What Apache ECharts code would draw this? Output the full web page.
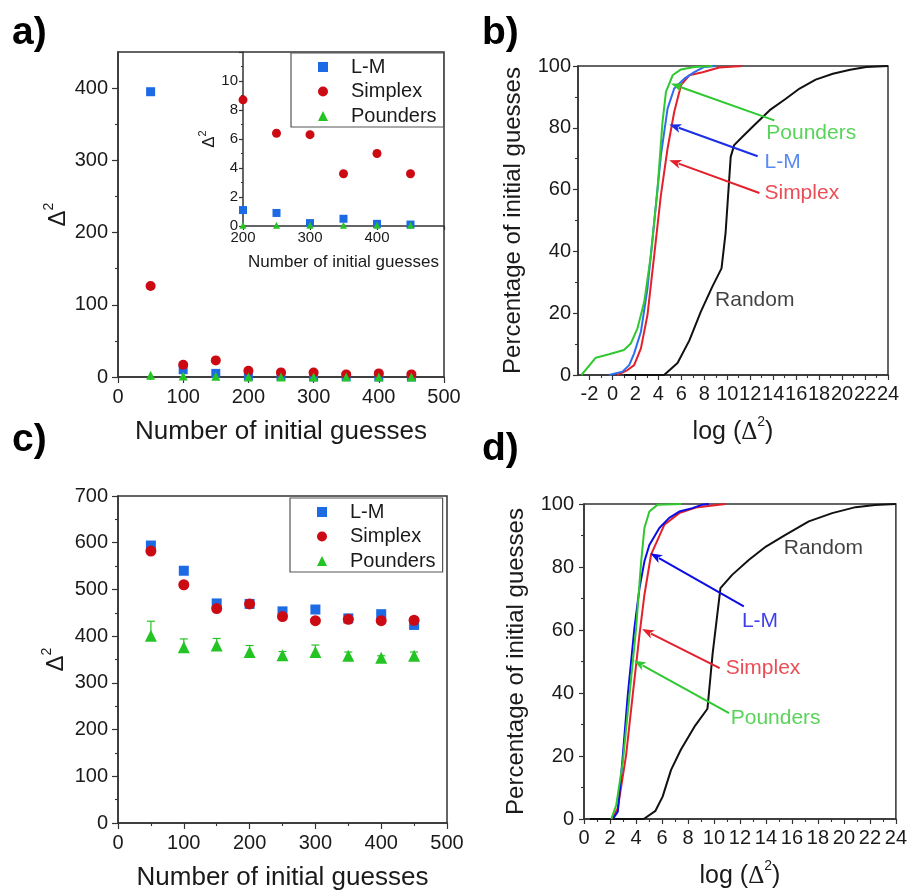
<!DOCTYPE html>
<html>
<head>
<meta charset="utf-8">
<script src="https://cdn.jsdelivr.net/npm/echarts@6/dist/echarts.min.js"></script>
<style>
  html, body { margin: 0; padding: 0; background: #fff; }
  #fig { width: 910px; height: 892px; }
</style>
</head>
<body>
<div id="fig"></div>
<script>
// ---- data -------------------------------------------------------------
const guesses = [50, 100, 150, 200, 250, 300, 350, 400, 450];

// (a) mean Δ² vs number of initial guesses
const lmA       = [395, 10, 5, 1.1, 0.9, 0.2, 0.5, 0.15, 0.1];
const simplexA  = [126, 17, 23, 8.7, 6.4, 6.3, 3.6, 5.0, 3.6];
const poundersA = [2.5, 1.5, 1.2, 0.05, 0.05, 0.05, 0.05, 0.05, 0.05];

// (c) mean Δ² vs number of initial guesses
const lmC          = [594, 540, 470, 469, 453, 457, 438, 447, 424];
const simplexC     = [582, 510, 459, 469, 442, 433, 436, 433, 434];
const poundersC    = [401, 376, 380, 366, 359, 366, 358, 354, 358];
const poundersErrC = [31, 18, 15, 14, 8, 15, 8, 4, 8];

// (b) cumulative distributions: [log(Δ²), % of initial guesses]
const bPounders = [[-2.7,0],[-1.45,5.6],[-0.3,6.7],[1.0,8.1],[1.6,10.2],[2.18,15.1],[2.77,23.7],[3.35,38.8],[3.93,60.4],[4.36,81.9],[4.66,91.6],[5.24,97],[5.97,98.9],[7.13,99.7],[8.7,100]];
const bLM       = [[-0.3,0],[0.87,1.1],[1.46,3.2],[1.89,7],[2.48,14],[3.05,28],[3.64,49.6],[4.22,71.1],[4.8,86.2],[5.38,92.7],[6.26,95.9],[7.13,98],[8.0,99.7],[9.0,100]];
const bSimplex  = [[0.4,0],[1.31,1.6],[1.89,3.2],[2.48,8.6],[3.05,19.4],[3.64,38.8],[4.22,58.2],[4.8,73.3],[5.38,85.1],[5.97,93.8],[6.69,97],[7.85,98],[9.3,99.5],[11.3,100]];
const bRandom   = [[1.0,0],[4.5,0],[5.67,3.9],[6.7,11.2],[7.7,20.5],[8.7,28.6],[9.5,34.5],[9.85,45.8],[10.3,70.6],[10.6,74.4],[11.3,77],[12.5,81.4],[13.7,85.7],[15.1,89.4],[16.3,92.7],[17.7,95.6],[19.2,97.5],[20.7,98.8],[22.1,99.7],[24,100]];

// (d) cumulative distributions: [log(Δ²), % of initial guesses]
const dPounders = [[2.1,0],[2.48,4.4],[2.99,18.2],[3.5,39.4],[4.01,60.6],[4.4,81.8],[4.65,92.4],[5.03,97.6],[5.67,99.8],[7.5,100]];
const dLM       = [[2.22,0],[2.6,2.3],[2.95,18.2],[3.37,39.4],[3.88,60.6],[4.27,73.3],[4.65,81.8],[5.03,87],[5.8,92.4],[6.56,95.6],[7.33,97.6],[8.35,98.7],[9.1,99.8],[9.6,100]];
const dSimplex  = [[2.17,0],[2.6,3.4],[3.24,20.3],[3.75,39.4],[4.27,58.5],[4.65,71.2],[5.16,83.9],[6.18,93.4],[7.33,97.1],[8.6,98.9],[10.9,100]];
const dRandom   = [[0.45,0],[4.6,0],[5.5,2.6],[6.05,7.1],[6.7,15.6],[7.45,22],[8.5,29.3],[9.5,35],[9.9,52.6],[10.5,73.3],[11.4,77.5],[12.7,82.3],[14,86.5],[15.5,90.2],[17.3,94.5],[19.1,97.1],[20.9,99],[22.4,99.7],[24,100]];

// arrows pointing from each label to its curve: [tail x, tail y, head x, head y]
const bArrows = {
  Pounders: [14.1, 82.4, 5.09, 94.3],
  'L-M':    [12.65, 70.8, 4.95, 81.1],
  Simplex:  [12.8, 58.9, 4.95, 69.5]
};
const dArrows = {
  'L-M':    [12.3, 67.5, 5.1, 84.4],
  Simplex:  [10.44, 47.9, 4.47, 60.3],
  Pounders: [11.16, 33.6, 3.83, 50.3]
};
// label anchors (left-middle of each text) in data coordinates
const bLabels = [['Pounders', 13.4, 78.2], ['L-M', 13.24, 69.0], ['Simplex', 13.24, 58.8], ['Random', 8.94, 24.2]];
const dLabels = [['L-M', 12.15, 62.7], ['Simplex', 10.9, 48.0], ['Pounders', 11.29, 32.1], ['Random', 15.37, 86.0]];

// tick values
const ticksN      = [0, 100, 200, 300, 400, 500];
const minorN      = [50, 150, 250, 350, 450];
const ticksYA     = [0, 100, 200, 300, 400];
const minorYA     = [50, 150, 250, 350];
const ticksInsetX = [200, 300, 400, 500];
const labelsInsetX= [200, 300, 400];
const minorInsetX = [250, 350, 450];
const ticksInsetY = [0, 2, 4, 6, 8, 10, 12];
const labelsInsetY= [0, 2, 4, 6, 8, 10];
const minorInsetY = [1, 3, 5, 7, 9, 11];
const ticksPct    = [0, 20, 40, 60, 80, 100];
const minorPct    = [10, 30, 50, 70, 90];
const ticksLogB   = [-2, 0, 2, 4, 6, 8, 10, 12, 14, 16, 18, 20, 22, 24];
const minorLogB   = [-1, 1, 3, 5, 7, 9, 11, 13, 15, 17, 19, 21, 23];
const ticksLogD   = [0, 2, 4, 6, 8, 10, 12, 14, 16, 18, 20, 22, 24];
const minorLogD   = [1, 3, 5, 7, 9, 11, 13, 15, 17, 19, 21, 23];
const ticksYC     = [0, 100, 200, 300, 400, 500, 600, 700];
const minorYC     = [50, 150, 250, 350, 450, 550, 650];

// ---- styling ----------------------------------------------------------
const FONT = 'Liberation Sans, Arial, Helvetica, sans-serif';
const AX = '#333';
const TXT = '#1a1a1a';
const COL_LM = '#1d6ae5', COL_SIM = '#cc0a14', COL_POU = '#25c425';
const CUR_POU = '#30c830', CUR_SIM = '#e3202b', CUR_LM_B = '#2f6cf0', CUR_LM_D = '#0c0ce6';

const deltaSq = {
  d: { fontSize: 24, fontFamily: FONT, color: TXT, lineHeight: 28, verticalAlign: 'bottom' },
  s: { fontSize: 14, fontFamily: FONT, color: TXT, lineHeight: 28, verticalAlign: 'top' }
};
const logDelta = {
  t: { fontSize: 25, fontFamily: FONT, color: TXT, lineHeight: 30, verticalAlign: 'bottom' },
  g: { fontSize: 25, fontFamily: 'Liberation Serif, Times New Roman, serif', color: TXT, lineHeight: 30, verticalAlign: 'bottom' },
  s: { fontSize: 14, fontFamily: FONT, color: TXT, lineHeight: 30, verticalAlign: 'top' }
};

function mainAxis(gridIndex, position, min, max, ticks, labels, extra) {
  const e = extra || {};
  return Object.assign({
    type: 'value', gridIndex, position, min, max,
    axisLine: { show: true, onZero: false, lineStyle: { color: AX, width: 1.5 } },
    axisTick: { show: true, customValues: ticks, length: e.tickLen || 6, lineStyle: { color: AX, width: 1.2 } },
    axisLabel: { customValues: labels, fontSize: e.fontSize || 20, fontFamily: FONT, color: TXT, margin: e.margin || 9 },
    splitLine: { show: false }
  }, e.more || {});
}
function minorAxis(gridIndex, position, min, max, ticks, len) {
  return {
    type: 'value', gridIndex, position, min, max,
    axisLine: { show: false, onZero: false },
    axisTick: { show: true, customValues: ticks, length: len || 3, lineStyle: { color: AX, width: 1.1 } },
    axisLabel: { show: false },
    splitLine: { show: false }
  };
}

// grids: 0 = a, 1 = inset of a, 2 = b, 3 = c, 4 = d
const grids = [
  { left: 118, top: 52, width: 326, height: 325 },
  { left: 243, top: 52, width: 201, height: 174 },
  { left: 578, top: 66, width: 310, height: 309 },
  { left: 118, top: 496, width: 329, height: 328 },
  { left: 584, top: 504, width: 314, height: 315 }
].map((g, i) => Object.assign({
  show: i !== 1, borderColor: AX, borderWidth: 1.5, backgroundColor: 'transparent', containLabel: false
}, g));

const nameGuesses = (gap) => ({
  name: 'Number of initial guesses', nameLocation: 'middle', nameGap: gap,
  nameTextStyle: { fontSize: 26, fontFamily: FONT, color: TXT }
});
const nameDelta = (gap) => ({
  name: '{d|Δ}{s|2}', nameLocation: 'middle', nameGap: gap, nameRotate: 90,
  nameTextStyle: { rich: deltaSq }
});
const namePct = (gap) => ({
  name: 'Percentage of initial guesses', nameLocation: 'middle', nameGap: gap, nameRotate: 90,
  nameTextStyle: { fontSize: 24, fontFamily: FONT, color: TXT }
});
const nameLog = (gap) => ({
  name: '{t|log (}{g|Δ}{s|2}{t|)}', nameLocation: 'middle', nameGap: gap,
  nameTextStyle: { rich: logDelta }
});

const xAxes = [
  // a
  mainAxis(0, 'bottom', 0, 500, ticksN, ticksN, { margin: 10, more: nameGuesses(42) }),
  minorAxis(0, 'bottom', 0, 500, minorN),
  // inset
  mainAxis(1, 'bottom', 200, 500, ticksInsetX, labelsInsetX, { fontSize: 15, margin: 4, tickLen: 4,
    more: { name: 'Number of initial guesses', nameLocation: 'middle', nameGap: 28,
            nameTextStyle: { fontSize: 17, fontFamily: FONT, color: TXT } } }),
  minorAxis(1, 'bottom', 200, 500, minorInsetX, 2),
  // b
  mainAxis(2, 'bottom', -3, 24, ticksLogB, ticksLogB, { margin: 9, tickLen: 5, more: nameLog(40) }),
  minorAxis(2, 'bottom', -3, 24, minorLogB),
  // c
  mainAxis(3, 'bottom', 0, 500, ticksN, ticksN, { margin: 10, more: nameGuesses(42) }),
  minorAxis(3, 'bottom', 0, 500, minorN),
  // d
  mainAxis(4, 'bottom', 0, 24, ticksLogD, ticksLogD, { margin: 9, tickLen: 5, more: nameLog(40) }),
  minorAxis(4, 'bottom', 0, 24, minorLogD)
];
const yAxes = [
  mainAxis(0, 'left', 0, 450, ticksYA, ticksYA, { margin: 10, more: nameDelta(48) }),
  minorAxis(0, 'left', 0, 450, minorYA),
  mainAxis(1, 'left', 0, 12, ticksInsetY, labelsInsetY, { fontSize: 15, margin: 5, tickLen: 4,
    more: { name: '{d|Δ}{s|2}', nameLocation: 'middle', nameGap: 20, nameRotate: 90,
            nameTextStyle: { rich: { d: { fontSize: 17, fontFamily: FONT, color: TXT, lineHeight: 20, verticalAlign: 'bottom' },
                                     s: { fontSize: 11, fontFamily: FONT, color: TXT, lineHeight: 20, verticalAlign: 'top' } } } } }),
  minorAxis(1, 'left', 0, 12, minorInsetY, 2),
  mainAxis(2, 'left', 0, 100, ticksPct, ticksPct, { margin: 7, tickLen: 5, more: namePct(53) }),
  minorAxis(2, 'left', 0, 100, minorPct),
  mainAxis(3, 'left', 0, 700, ticksYC, ticksYC, { margin: 10, more: nameDelta(50) }),
  minorAxis(3, 'left', 0, 700, minorYC),
  mainAxis(4, 'left', 0, 100, ticksPct, ticksPct, { margin: 10, tickLen: 5, more: namePct(56) }),
  minorAxis(4, 'left', 0, 100, minorPct)
];
// axis index lookup: main axis of grid g is 2*g
const ax = (g) => ({ xAxisIndex: 2 * g, yAxisIndex: 2 * g });

function pts(ys) { return guesses.map((x, i) => [x, ys[i]]); }

function scatter(name, g, ys, symbol, size, color, z) {
  return Object.assign({
    type: 'scatter', name, data: pts(ys), symbol, symbolSize: size, z: z || 2,
    itemStyle: { color, opacity: 1 }, clip: true, silent: true
  }, ax(g));
}

function curve(id, g, data, color) {
  return Object.assign({
    type: 'line', name: id, data, showSymbol: false, symbol: 'none', smooth: false,
    lineStyle: { color, width: 2 }, z: 3, silent: true, clip: true
  }, ax(g));
}

// straight arrow from tail to head, head drawn as a filled wedge
function arrows(id, g, spec, colors) {
  return Object.assign({
    type: 'custom', name: id, silent: true, z: 6, clip: false,
    data: Object.keys(spec).map(k => ({ value: spec[k], itemStyle: { color: colors[k] } })),
    renderItem(params, api) {
      const p1 = api.coord([api.value(0), api.value(1)]);
      const p2 = api.coord([api.value(2), api.value(3)]);
      const color = api.visual('color');
      const dx = p2[0] - p1[0], dy = p2[1] - p1[1];
      const len = Math.hypot(dx, dy) || 1;
      const ux = dx / len, uy = dy / len;
      const L = 12, W = 4.5;
      const bx = p2[0] - ux * L, by = p2[1] - uy * L;
      return { type: 'group', children: [
        { type: 'line', shape: { x1: p1[0], y1: p1[1], x2: bx + ux * 2, y2: by + uy * 2 },
          style: { stroke: color, lineWidth: 2 } },
        { type: 'polygon', shape: { points: [[p2[0], p2[1]], [bx - uy * W, by + ux * W], [bx + ux * 3, by + uy * 3], [bx + uy * W, by - ux * W]] },
          style: { fill: color } }
      ] };
    }
  }, ax(g));
}

function labels(id, g, list, colors) {
  return Object.assign({
    type: 'scatter', name: id, symbolSize: 0, silent: true, z: 5, clip: false,
    data: list.map(([t, x, y]) => ({ value: [x, y], name: t,
      label: { show: true, position: 'right', distance: 0, formatter: t,
               fontSize: 21, fontFamily: FONT, color: colors[t] } }))
  }, ax(g));
}

function errorBars(id, g, ys, errs, color) {
  return Object.assign({
    type: 'custom', name: id, silent: true, z: 1,
    data: guesses.map((x, i) => [x, ys[i], errs[i]]),
    renderItem(params, api) {
      const base = api.coord([api.value(0), api.value(1)]);
      const top = api.coord([api.value(0), api.value(1) + api.value(2)]);
      const st = { stroke: color, lineWidth: 1.2 };
      return { type: 'group', children: [
        { type: 'line', shape: { x1: base[0], y1: base[1], x2: top[0], y2: top[1] }, style: st },
        { type: 'line', shape: { x1: top[0] - 4, y1: top[1], x2: top[0] + 4, y2: top[1] }, style: st }
      ] };
    }
  }, ax(g));
}

const colorsB = { Pounders: CUR_POU, 'L-M': CUR_LM_B, Simplex: CUR_SIM, Random: '#111' };
const colorsArrowB = { Pounders: CUR_POU, 'L-M': '#1a2fe6', Simplex: CUR_SIM };
const colorsD = { Pounders: CUR_POU, 'L-M': CUR_LM_D, Simplex: CUR_SIM, Random: '#111' };

const series = [
  // a
  scatter('L-M', 0, lmA, 'rect', 9, COL_LM, 2),
  scatter('Simplex', 0, simplexA, 'circle', 10, COL_SIM, 3),
  scatter('Pounders', 0, poundersA, 'triangle', 9, COL_POU, 4),
  // inset
  scatter('L-M', 1, lmA, 'rect', 8, COL_LM, 2),
  scatter('Simplex', 1, simplexA, 'circle', 9, COL_SIM, 3),
  scatter('Pounders', 1, poundersA, 'triangle', 7, COL_POU, 4),
  // b
  curve('b random', 2, bRandom, '#111'),
  curve('b simplex', 2, bSimplex, CUR_SIM),
  curve('b lm', 2, bLM, CUR_LM_B),
  curve('b pounders', 2, bPounders, CUR_POU),
  arrows('b arrows', 2, bArrows, colorsArrowB),
  labels('b labels', 2, bLabels, colorsB),
  // c
  errorBars('c pounders err', 3, poundersC, poundersErrC, COL_POU),
  scatter('L-M', 3, lmC, 'rect', 10, COL_LM, 2),
  scatter('Simplex', 3, simplexC, 'circle', 11, COL_SIM, 3),
  scatter('Pounders', 3, poundersC, 'triangle', 12, COL_POU, 4),
  // d
  curve('d random', 4, dRandom, '#111'),
  curve('d simplex', 4, dSimplex, CUR_SIM),
  curve('d lm', 4, dLM, CUR_LM_D),
  curve('d pounders', 4, dPounders, CUR_POU),
  arrows('d arrows', 4, dArrows, colorsD),
  labels('d labels', 4, dLabels, colorsD)
];

function legendBox(left, top, padTop) {
  return {
    left, top, orient: 'vertical', selectedMode: false,
    data: [{ name: 'L-M', icon: 'rect' }, { name: 'Simplex', icon: 'circle' }, { name: 'Pounders', icon: 'triangle' }],
    itemWidth: 10, itemHeight: 10, itemGap: 4.5,
    padding: [padTop, 7, 1, 27],
    borderColor: '#555', borderWidth: 1.2, backgroundColor: '#fff',
    textStyle: { fontSize: 20, fontFamily: FONT, color: TXT, lineHeight: 20, padding: [0, 0, 0, 18] }
  };
}

const panelLabel = (t, x, y) => ({
  type: 'text', left: x, top: y, z: 10,
  style: { text: t, font: 'bold 39px ' + FONT, fill: '#000' }
});

const chart = echarts.init(document.getElementById('fig'), null, { renderer: 'canvas', width: 910, height: 892 });
chart.setOption({
  animation: false,
  backgroundColor: '#fff',
  grid: grids,
  xAxis: xAxes,
  yAxis: yAxes,
  legend: [legendBox(291, 53, 4), legendBox(290, 498, 4)],
  series,
  graphic: [
    panelLabel('a)', 12, 14),
    panelLabel('b)', 482, 14),
    panelLabel('c)', 12, 421),
    panelLabel('d)', 482, 430)
  ]
});
</script>
</body>
</html>
